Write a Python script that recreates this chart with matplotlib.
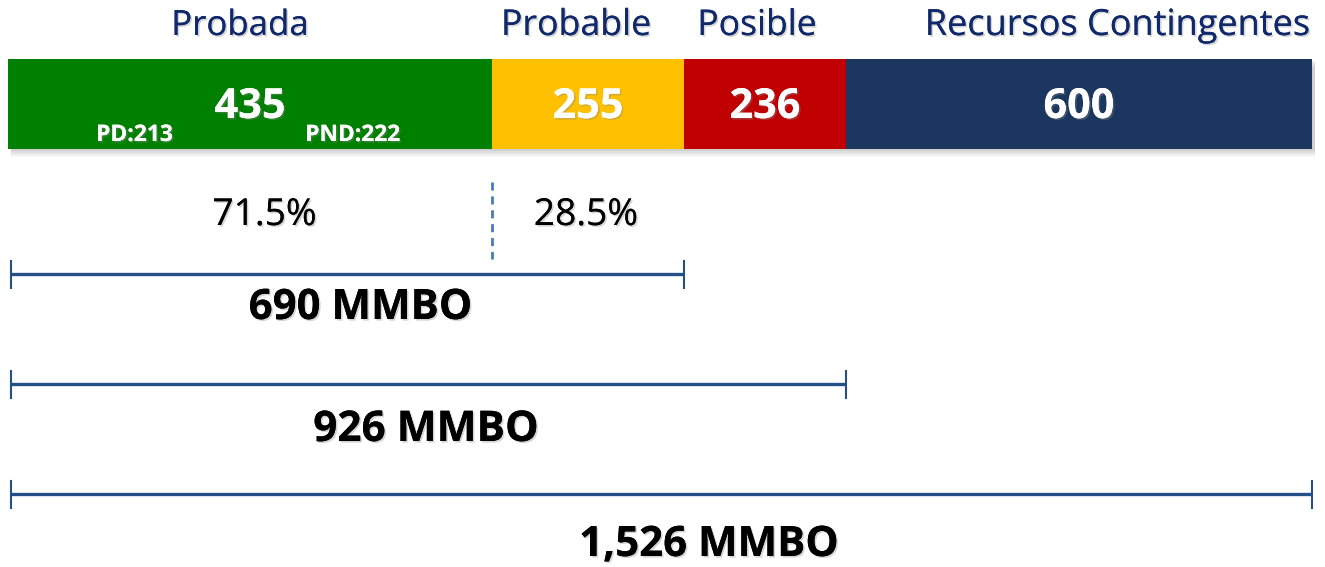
import matplotlib
matplotlib.use("Agg")
import matplotlib.pyplot as plt
from matplotlib.patches import Rectangle
import matplotlib.patheffects as pe

# ---------------- data ----------------
categories = ["Probada", "Probable", "Posible", "Recursos Contingentes"]
values = [435, 255, 236, 600]
# share of the bar length each segment occupies in the picture (%)
segment_share = [37.12, 14.72, 12.42, 35.74]
proved_split_labels = ["PD:213", "PND:222"]
pct_labels = ["71.5%", "28.5%"]
bracket_spans = [2, 3, 4]          # number of segments covered by each bracket
unit = "MMBO"

# ---------------- styles ----------------
seg_colors = ["#008000", "#FFC000", "#C00000", "#1B375F"]
header_color = "#10296B"
bracket_color = "#24508A"
dash_color = "#4A78C0"
FONT = "Open Sans"

W, H = 1325, 567
fig = plt.figure(figsize=(W / 100, H / 100), dpi=100)
ax = fig.add_axes([0, 0, 1, 1])
X0, X1 = 8, 1312                    # pixel extent of the bar
scale = (X1 - X0) / 100.0
ax.set_xlim(-X0 / scale, (W - X0) / scale)
ax.set_ylim(H, 0)
ax.axis("off")


def px(p):
    return (p - X0) / scale


renderer = fig.canvas.get_renderer()
shadow = [pe.withSimplePatchShadow(offset=(1.2, -1.2), shadow_rgbFace="#888888", alpha=0.35), pe.Normal()]


def fit_text(x, y, s, width_px, shadow_fx=True, **kw):
    t = ax.text(x, y, s, fontsize=20, family=FONT, ha="center", va="baseline", **kw)
    w = t.get_window_extent(renderer=renderer).width
    t.set_fontsize(20 * width_px / w)
    if shadow_fx:
        t.set_path_effects(shadow)
    return t


# ---------------- bar ----------------
BAR_TOP, BAR_H = 59, 90
starts = [sum(segment_share[:i]) for i in range(len(segment_share))]

# soft drop shadow
for k, a in enumerate([0.05, 0.07, 0.09, 0.11]):
    off = 8 - 2 * k
    ax.add_patch(Rectangle((px(X0 + 3), BAR_TOP + off), 100, BAR_H, color="#606060",
                           alpha=a, lw=0, zorder=1))

for s0, w, c in zip(starts, segment_share, seg_colors):
    ax.add_patch(Rectangle((s0, BAR_TOP), w, BAR_H, facecolor=c, edgecolor="none", zorder=2))

# headers
header_offsets = [-10, -12, -8, 39]
header_widths = [137, 150, 119, 384]
for s0, w, name, off, hw in zip(starts, segment_share, categories, header_offsets, header_widths):
    fit_text(s0 + w / 2 + off / scale, 35, name, hw, color=header_color)

# values
for s0, w, v in zip(starts, segment_share, values):
    fit_text(s0 + w / 2, 118, f"{v}", 71, color="white", fontweight="bold", zorder=3)

# PD / PND
g0, gw = starts[0], segment_share[0]
fit_text(g0 + gw * 0.261, 141, proved_split_labels[0], 77, color="white", fontweight="bold", zorder=3)
fit_text(g0 + gw * 0.712, 141, proved_split_labels[1], 95, color="white", fontweight="bold", zorder=3)

# percentages and dashed divider
boundary = starts[1]
ax.plot([boundary, boundary], [182, 259], color=dash_color, lw=2, ls=(0, (2.9, 2.1)), zorder=2)
fit_text(px(264.5), 225, pct_labels[0], 104, color="black")
fit_text(px(586), 225, pct_labels[1], 104, color="black")

# brackets
bracket_y = [274, 384, 494]
label_y = [319, 441, 556]
label_x = [360.5, 426, 709]
label_w = [224, 226, 260]
for n, by, ly, lx, lw_ in zip(bracket_spans, bracket_y, label_y, label_x, label_w):
    end = sum(segment_share[:n])
    x_start = px(11)
    ax.plot([x_start, end], [by, by], color=bracket_color, lw=2.4, solid_capstyle="butt", zorder=2)
    for xe in (x_start, end):
        ax.plot([xe, xe], [by - 13, by + 14], color=bracket_color, lw=1.5, zorder=2)
    total = sum(values[:n])
    fit_text(px(lx), ly, f"{total:,} {unit}", lw_, color="black", fontweight="bold")

fig.savefig("out.png", dpi=100)
